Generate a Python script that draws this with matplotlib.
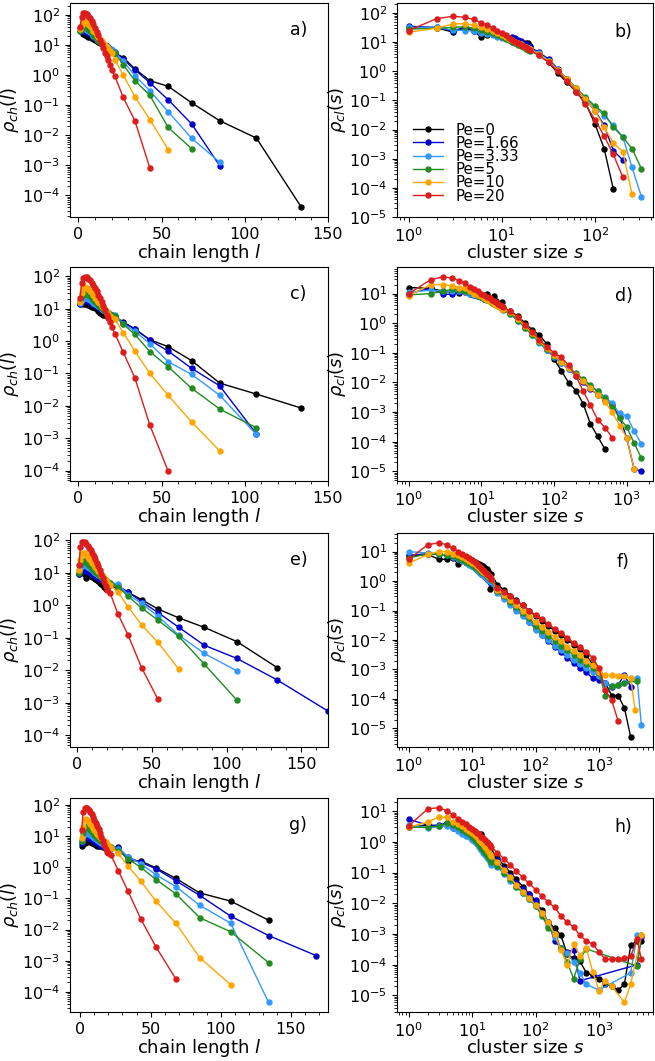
import matplotlib
matplotlib.use("Agg")
import matplotlib.pyplot as plt
from matplotlib.ticker import AutoMinorLocator, LogLocator, NullFormatter

PE_LABELS = ["Pe=0", "Pe=1.66", "Pe=3.33", "Pe=5", "Pe=10", "Pe=20"]
COLORS = ["black", "#0000cd", "#3399ff", "#228b22", "#ffa500", "#dd1c1c"]

# chain length bins (left column)
L_BINS = [1, 2, 3, 4, 5, 6, 7, 8, 9, 10, 11, 12, 13, 14, 15, 16, 17, 18, 19, 20,
          22, 27, 34, 43, 54, 68, 85, 107, 134, 168]
# small cluster sizes (right column), tails listed per series
S_SMALL = [1, 2, 3, 4, 5, 6, 7, 8, 9, 10, 11, 12, 13, 14, 15, 16, 17, 18, 19, 20]

# ---- panel a ----
rho_ch_a = [
    [30, 27, 24, 22, 20, 19, 18, 17, 15.5, 14.5, 14, 13, 12, 11, 10, 9.5, 9, 8.2, 7.6, 7,
     5.5, 3.8, 1.6, 0.65, 0.42, 0.12, 0.03, 0.008, 4e-5],
    [36, 32, 30, 29, 27, 25, 23, 21, 19, 17, 15.5, 14, 13, 12, 11, 10, 9, 8.2, 7.5, 6.8,
     5.8, 3.3, 1.5, 0.55, 0.15, 0.024, 9.5e-4],
    [32, 35, 36, 35, 32, 29, 26, 23, 20, 18, 16, 14.5, 13, 12, 11, 10, 9, 8, 7.4, 6.8,
     5.8, 2.9, 0.95, 0.3, 0.06, 0.008, 1.25e-3],
    [30, 38, 45, 44, 40, 35, 30, 26, 22, 19, 16.5, 14, 12.5, 11, 10, 9, 8, 7.2, 6.5, 6,
     5.3, 2.2, 0.65, 0.21, 0.018, 3.6e-3],
    [35, 45, 60, 62, 58, 50, 42, 36, 30, 26, 22, 19, 16, 14, 12, 10, 8.5, 7.5, 6.5, 5.5,
     3.2, 1.0, 0.19, 0.033, 3.3e-3],
    [40, 85, 115, 118, 110, 95, 80, 65, 50, 38, 28, 21, 15, 11, 8, 5.5, 4.2, 3.1, 2.2, 1.5,
     0.9, 0.18, 0.03, 8e-4],
]

# ---- panel c ----
rho_ch_c = [
    [14, 15, 14, 14, 13.5, 13, 12, 11.5, 11, 10.5, 10, 8.5, 7.5, 7, 6.6, 6.2, 6, 5.8, 5.5, 5.5,
     5.5, 3.9, 2.3, 1.1, 0.67, 0.25, 0.05, 0.023, 8.5e-3],
    [14, 16, 18, 18.5, 18, 17, 16, 15, 14, 13, 12, 11, 10, 9.5, 9, 8.3, 7.7, 7.1, 6.6, 6.2,
     6, 3.7, 2.4, 1.07, 0.49, 0.144, 0.041, 1.35e-3],
    [15, 18, 21, 22, 21, 20, 18.5, 17, 15.5, 14, 13, 12, 11, 10, 9.3, 8.6, 8, 7.4, 6.9, 6.5,
     6.5, 3.4, 2.0, 0.83, 0.23, 0.094, 0.021, 1.3e-3],
    [17, 24, 29, 30, 29, 27, 24, 21, 18.5, 16, 14.5, 13, 11.5, 10.5, 9.5, 8.7, 8, 7.4, 6.8, 6.3,
     5.8, 3.3, 1.6, 0.47, 0.16, 0.035, 7.9e-3, 2.1e-3],
    [16, 30, 42, 46, 44, 40, 35, 30, 26, 22, 19, 16.5, 14.5, 12.5, 11, 9.5, 8, 7, 6, 5.3,
     4.7, 1.8, 0.49, 0.1, 0.021, 3.2e-3, 4e-4],
    [21, 62, 90, 97, 93, 85, 75, 63, 52, 42, 34, 27, 21, 16, 12, 9, 6.5, 5, 4, 2.8,
     1.7, 0.45, 0.072, 2.5e-3, 9.5e-5],
]

# ---- panel e ----
rho_ch_e = [
    [9, 10, 11, 10, 9, 7, 9.5, 8.5, 8, 7.5, 7.3, 6.5, 6, 5.5, 5, 4.6, 4.2, 3.6, 3.1, 3.5,
     4.1, 3.3, 2.5, 1.5, 0.77, 0.41, 0.21, 0.076, 0.012],
    [9, 11, 12, 12.5, 12, 11.5, 11, 10.5, 10, 9.4, 8.8, 8.2, 7.6, 7.1, 6.7, 6.3, 5.9, 5.6, 5.3, 5,
     4.6, 4, 2.6, 1.3, 0.6, 0.21, 0.059, 0.023, 5e-3, 5.5e-4],
    [12, 14, 16, 17, 17, 16, 15, 14, 13, 12, 11, 10, 9.4, 8.8, 8.2, 7.6, 7, 6.5, 6, 5.6,
     5, 4.6, 2.1, 1.15, 0.46, 0.12, 0.033, 9.5e-3],
    [10, 17, 22, 24, 23, 21, 19, 17, 15, 13.5, 12, 11, 10, 9, 8.3, 7.6, 7, 6.4, 5.9, 5.4,
     4.8, 3.8, 1.9, 0.83, 0.35, 0.11, 0.0155, 1.18e-3],
    [12, 25, 38, 42, 40, 36, 31, 27, 23, 20, 17, 15, 13, 11.5, 10, 8.8, 7.8, 6.8, 6, 5.2,
     4.1, 2.6, 0.9, 0.25, 0.072, 0.0107],
    [18, 65, 88, 92, 88, 80, 70, 60, 50, 41, 33, 26, 20, 16, 12, 9, 7, 5.2, 4, 3,
     2.35, 0.56, 0.12, 0.012, 1.26e-3],
]

# ---- panel g ----
rho_ch_g = [
    [5, 5.5, 6.2, 6.5, 6.3, 6.8, 6.5, 6.2, 6, 5.5, 5.2, 5, 4.9, 4.8, 4.7, 4.6, 4.5, 4.4, 4.3, 4.3,
     4.2, 4.4, 1.63, 1.6, 0.95, 0.44, 0.15, 0.082, 0.02],
    [6, 8, 9, 9.5, 9.3, 9, 8.5, 8, 7.5, 7, 6.5, 6, 5.6, 5.3, 5, 4.8, 4.6, 4.5, 4.4, 4.3,
     4.3, 4.3, 2.1, 1.45, 0.89, 0.37, 0.125, 0.027, 6.4e-3, 1.45e-3],
    [7, 10, 12, 13, 12.5, 12, 11, 10, 9.3, 8.6, 8, 7.4, 6.9, 6.4, 6, 5.6, 5.3, 5, 4.7, 4.5,
     4.3, 4.0, 2.2, 1.3, 0.57, 0.24, 0.06, 0.016, 4.6e-5],
    [7, 13, 18, 20, 19.5, 18, 16, 14, 12.5, 11, 10, 9, 8.2, 7.5, 7, 6.5, 6, 5.6, 5.2, 4.9,
     4.5, 3.4, 1.85, 1.0, 0.4, 0.14, 0.024, 8.5e-3, 8.7e-4],
    [9, 20, 32, 35, 33, 29, 25, 21, 18, 15.5, 13.5, 12, 10.5, 9.5, 8.5, 7.7, 7, 6.3, 5.7, 5.2,
     4.3, 2.8, 1.1, 0.36, 0.08, 0.016, 1.25e-3, 1.7e-4],
    [16, 60, 80, 82, 78, 70, 60, 50, 42, 34, 27, 21, 16.5, 12.5, 9.5, 7, 5.2, 4, 3.2, 2.8,
     2.4, 0.78, 0.17, 0.022, 2.7e-3, 2.6e-4],
]

# ---- panel b ----
s_tail_b = [
    [25, 32, 40, 50, 63, 79, 100, 126, 158],
    [25, 32, 40, 50, 63, 79, 100, 126, 158, 200],
    [25, 32, 40, 50, 63, 79, 100, 126, 158, 200, 251, 316],
    [25, 32, 40, 50, 63, 79, 100, 126, 158, 200, 251, 316],
    [25, 32, 40, 50, 63, 79, 100, 126, 158, 200, 251],
    [25, 32, 40, 50, 63, 79, 100, 126, 158, 200],
]
rho_cl_b = [
    [30, 31, 22, 31, 24, 15, 17, 20, 19, 17, 15, 13, 12, 11, 10.5, 10, 9.5, 9.5, 9.3, 7.5,
     3.8, 2.0, 0.85, 0.42, 0.2, 0.085, 0.016, 2.2e-3, 9e-5],
    [35, 32, 24, 33, 25, 22, 20, 19, 17, 15.5, 14, 13, 15, 14, 12, 11, 9.5, 8.5, 7.5, 6.8,
     4.5, 2.6, 1.2, 0.55, 0.25, 0.11, 0.045, 0.014, 1.9e-3, 9e-4],
    [32, 32, 26, 25, 24, 21, 19, 17, 15.5, 14, 12.5, 11.5, 10.5, 9.5, 8.8, 8.1, 7.5, 7, 6.5, 6,
     4.2, 2.3, 1.1, 0.55, 0.27, 0.12, 0.06, 0.03, 0.014, 5.5e-3, 5e-4, 5e-5],
    [28, 30, 32, 34, 30, 26, 23, 20, 17.5, 15, 13, 11.5, 10, 9, 8, 7.3, 6.6, 6, 5.5, 5,
     3.6, 2.2, 1.1, 0.55, 0.27, 0.13, 0.065, 0.036, 0.012, 5.5e-3, 2.2e-3, 4.6e-4],
    [22, 30, 42, 43, 38, 33, 28, 24, 20, 17, 15, 13, 11.5, 10.3, 9.3, 8.4, 7.6, 6.9, 6.3, 5.8,
     3.8, 2.2, 1.1, 0.55, 0.26, 0.11, 0.045, 0.012, 3.5e-3, 1.7e-3, 6e-5],
    [25, 64, 77, 71, 60, 46, 38, 31, 25, 20, 17, 14, 12, 10.5, 9.2, 8.2, 7.4, 6.6, 6.0, 5.4,
     3.5, 2.0, 1.0, 0.45, 0.2, 0.075, 0.022, 6e-3, 1.4e-3, 2.3e-4],
]

# ---- panel d ----
s_tail_d = [
    [25, 32, 40, 50, 63, 79, 100, 126, 158, 200, 251, 316, 398, 501],
    [25, 32, 40, 50, 63, 79, 100, 126, 158, 200, 251, 316, 398, 501, 631, 794, 1000, 1259, 1585],
    [25, 32, 40, 50, 63, 79, 100, 126, 158, 200, 251, 316, 398, 501, 631, 794, 1000, 1259, 1585],
    [25, 32, 40, 50, 63, 79, 100, 126, 158, 200, 251, 316, 398, 501, 631, 794, 1000, 1259, 1585],
    [25, 32, 40, 50, 63, 79, 100, 126, 158, 200, 251, 316, 398, 501, 631, 794, 1000, 1259],
    [25, 32, 40, 50, 63, 79, 100, 126, 158, 200, 251, 316, 398, 501, 631],
]
rho_cl_d = [
    [16, 15, 12, 11, 10.5, 11, 10, 9, 8, 7.5, 7, 9.5, 6.5, 6, 8, 5.5, 4.5, 4, 5, 3.2,
     2.6, 1.7, 1.0, 0.6, 0.4, 0.2, 0.06, 0.025, 9.8e-3, 5.3e-3, 1.9e-3, 4e-4, 1.5e-4, 5.5e-5],
    [10, 15, 9.5, 9.5, 11, 12, 10, 9, 8.3, 7.5, 6.8, 6.2, 5.6, 5.1, 4.7, 4.3, 4, 3.7, 3.4, 3.1,
     2.2, 1.3, 0.75, 0.42, 0.23, 0.12, 0.075, 0.045, 0.028, 0.017, 0.01, 6e-3, 3.8e-3, 2.5e-3,
     1.7e-3, 7e-4, 1.3e-4, 1.2e-5, 1e-5],
    [11, 13, 12, 12, 12, 11, 10, 9, 8.2, 7.4, 6.7, 6.1, 5.5, 5, 4.6, 4.2, 3.8, 3.5, 3.2, 2.9,
     2.0, 1.2, 0.7, 0.4, 0.22, 0.12, 0.07, 0.045, 0.028, 0.018, 0.012, 7.5e-3, 5e-3, 3.2e-3,
     2e-3, 9e-4, 7.3e-4, 2.3e-4, 8.5e-5],
    [9, 10, 12, 14, 13, 12, 11, 9.5, 8.5, 7.5, 6.7, 6, 5.4, 4.9, 4.5, 4.1, 3.7, 3.4, 3.1, 2.8,
     2.0, 1.2, 0.7, 0.4, 0.23, 0.13, 0.08, 0.05, 0.032, 0.02, 0.013, 8e-3, 5e-3, 3e-3,
     1.5e-3, 6.3e-4, 3.1e-4, 9e-5, 2.8e-5],
    [8.5, 20, 20, 18, 16, 15, 12, 10, 9, 8, 7, 6.3, 5.6, 5, 4.5, 4.1, 3.7, 3.4, 3.1, 2.9,
     2.4, 1.4, 0.8, 0.45, 0.25, 0.14, 0.085, 0.05, 0.03, 0.018, 0.011, 6.5e-3, 3.8e-3, 2.2e-3,
     1e-3, 3.5e-4, 1.35e-4, 1.2e-5],
    [10, 29, 37, 33, 27, 22, 17, 14, 12, 10, 8.8, 7.8, 7, 6.2, 5.6, 5, 4.6, 4.2, 3.8, 3.5,
     2.6, 1.6, 0.9, 0.5, 0.28, 0.16, 0.1, 0.07, 0.038, 0.0165, 5.1e-3, 1.7e-3, 5.4e-4, 3e-4, 1.35e-4],
]

# ---- panel f ----
s_tail_f = [
    [25, 32, 40, 50, 63, 79, 100, 126, 158, 200, 251, 316, 398, 501, 631, 794, 1000, 1259, 1585,
     1995, 2512, 3162],
    [25, 32, 40, 50, 63, 79, 100, 126, 158, 200, 251, 316, 398, 501, 631, 794, 1000, 1259, 1585,
     1995, 2512, 3162],
    [25, 32, 40, 50, 63, 79, 100, 126, 158, 200, 251, 316, 398, 501, 631, 794, 1000, 1259, 1585,
     1995, 2512, 3981, 4650],
    [25, 32, 40, 50, 63, 79, 100, 126, 158, 200, 251, 316, 398, 501, 631, 794, 1000, 1259, 1585,
     1995, 2512, 3981],
    [25, 32, 40, 50, 63, 79, 100, 126, 158, 200, 251, 316, 398, 501, 631, 794, 1000, 1259, 1585,
     1995, 2512, 3162, 3700],
    [25, 32, 40, 50, 63, 79, 100, 126, 158, 200, 251, 316, 398, 501, 631, 794, 1000, 1259, 1585,
     1995],
]
rho_cl_f = [
    [7, 8, 5.5, 5.5, 6, 3.8, 5.5, 6, 5.5, 5, 4.5, 4.2, 3.8, 3.5, 3.2, 2.8, 2.5, 2.2, 0.55, 1.8,
     0.75, 0.5, 0.32, 0.22, 0.15, 0.1, 0.065, 0.045, 0.03, 0.021, 0.015, 0.01, 7e-3, 5e-3, 3e-3,
     1.5e-3, 6e-4, 3.5e-4, 1.3e-4, 1.3e-4, 5e-5, 5e-6],
    [7.5, 8.5, 8, 7.5, 6.5, 5.8, 5, 4.3, 3.7, 3.2, 2.8, 2.4, 2.1, 1.8, 1.6, 1.4, 1.2, 1.05, 0.95, 0.85,
     0.45, 0.28, 0.18, 0.11, 0.07, 0.042, 0.024, 0.015, 9e-3, 6e-3, 3.8e-3, 2.5e-3, 1.6e-3, 1.1e-3,
     8e-4, 5e-4, 4.5e-4, 3.5e-4, 2.6e-4, 3e-4, 6.5e-4, 2.6e-4],
    [10, 9, 8.5, 7.5, 6.5, 5.5, 4.8, 4.2, 3.6, 3.2, 2.8, 2.4, 2.1, 1.8, 1.6, 1.4, 1.25, 1.1, 1.0, 0.9,
     0.38, 0.25, 0.16, 0.1, 0.065, 0.04, 0.022, 0.015, 0.01, 6.5e-3, 4.5e-3, 3e-3, 2.1e-3, 1.5e-3,
     1.1e-3, 8e-4, 6e-4, 3.5e-4, 2.8e-4, 3e-4, 3.5e-4, 5e-4, 1.3e-5],
    [6, 8.5, 8, 7.5, 7, 6, 5.2, 4.5, 4, 3.5, 3.1, 2.7, 2.4, 2.1, 1.9, 1.7, 1.5, 1.35, 1.2, 1.05,
     0.45, 0.3, 0.2, 0.13, 0.085, 0.055, 0.03, 0.021, 0.014, 9.5e-3, 6.5e-3, 4.5e-3, 3.1e-3, 2.1e-3,
     1.5e-3, 1.1e-3, 7.5e-4, 1.3e-4, 2.7e-4, 3e-4, 3.6e-4, 4e-4],
    [4, 8, 10, 10, 8.5, 7.5, 6.5, 5.5, 4.8, 4.2, 3.7, 3.2, 2.8, 2.4, 2.1, 1.9, 1.7, 1.5, 1.35, 1.2,
     0.5, 0.33, 0.22, 0.15, 0.1, 0.065, 0.04, 0.028, 0.019, 0.013, 9e-3, 6e-3, 4.3e-3, 3e-3,
     2e-3, 1.4e-3, 8.5e-4, 6.3e-4, 6.3e-4, 6e-4, 6e-4, 5e-4, 4.2e-5],
    [5.5, 17, 20, 17, 13, 10, 8.5, 7, 6, 5, 4.3, 3.7, 3.2, 2.8, 2.4, 2.1, 1.8, 1.6, 1.4, 1.2,
     0.6, 0.42, 0.3, 0.21, 0.15, 0.1, 0.07, 0.05, 0.035, 0.024, 0.017, 0.012, 8e-3, 5.8e-3,
     4e-3, 2.5e-3, 1.1e-3, 2e-4, 9e-5, 1.8e-5],
]

# ---- panel h ----
s_tail_h = [
    [25, 32, 40, 50, 63, 79, 100, 126, 158, 200, 251, 316, 398, 501, 631, 794, 1000, 1259, 1585,
     1995, 2512, 3162, 3981, 4650],
    [25, 32, 40, 50, 63, 79, 100, 126, 158, 200, 251, 316, 398, 501, 3981, 4650],
    [25, 32, 40, 50, 63, 79, 100, 126, 158, 200, 251, 316, 398, 501, 631, 1000, 3162, 3981],
    [25, 32, 40, 50, 63, 79, 100, 126, 158, 200, 251, 316, 398, 501, 631, 3981, 4650],
    [25, 32, 40, 50, 63, 79, 100, 126, 158, 200, 251, 316, 398, 501, 631, 794, 1000, 1259, 1585,
     2512, 3162, 4650],
    [25, 32, 40, 50, 63, 79, 100, 126, 158, 200, 251, 316, 398, 501, 631, 794, 1000, 1259, 1585,
     1995, 2512, 3162, 3981, 4650],
]
rho_cl_h = [
    [3, 3.5, 3.2, 4, 3.5, 3.2, 4.2, 3, 2.5, 2.1, 1.8, 1.5, 1.3, 1.8, 1.0, 0.9, 0.75, 0.6, 0.5, 0.42,
     0.3, 0.17, 0.1, 0.06, 0.035, 0.02, 0.011, 6e-3, 2.4e-3, 1.6e-3, 9e-4, 2.2e-4, 1.6e-4, 1.3e-4,
     5.5e-5, 4.5e-5, 3.5e-5, 2.4e-5, 2e-5, 1.5e-5, 2.3e-5, 4.3e-4, 6e-4, 6e-4],
    [5.5, 3.5, 3.5, 4.2, 2.8, 2.5, 1.9, 1.8, 2.0, 1.7, 1.2, 1.0, 0.85, 1.0, 0.8, 0.65, 0.55, 0.45, 0.4, 0.35,
     0.25, 0.13, 0.075, 0.045, 0.03, 0.02, 0.013, 5e-3, 2.5e-3, 6e-4, 3.5e-4, 2.6e-4, 3e-4, 3e-5,
     1e-4, 8e-4],
    [3.5, 2.8, 3.2, 3.3, 2.8, 2.2, 1.8, 1.6, 1.4, 1.2, 1.0, 0.85, 0.7, 0.55, 0.45, 0.38, 0.32, 0.27, 0.22, 0.18,
     0.15, 0.09, 0.055, 0.035, 0.022, 0.014, 8e-3, 4.5e-3, 1.8e-3, 8e-4, 3.5e-4, 2.4e-4, 1.2e-4,
     5.5e-5, 2.3e-5, 1.5e-5, 5.5e-5, 9.5e-4],
    [3, 3, 3.3, 4, 3.5, 3, 2.5, 2.1, 1.8, 1.5, 1.2, 1.0, 0.8, 0.65, 0.55, 0.45, 0.38, 0.32, 0.27, 0.23,
     0.16, 0.1, 0.06, 0.035, 0.022, 0.014, 8.5e-3, 4e-3, 1.6e-3, 1e-3, 3.5e-4, 1.2e-4, 3.5e-5,
     1.5e-4, 3.3e-4, 9e-5, 9e-4],
    [3, 4.5, 6.5, 6.3, 4.5, 3.8, 3.2, 2.7, 2.3, 2.0, 1.7, 1.4, 1.2, 1.0, 0.85, 0.7, 0.6, 0.5, 0.42, 0.35,
     0.22, 0.12, 0.07, 0.04, 0.024, 0.015, 9e-3, 5e-3, 2.4e-3, 1e-3, 3e-4, 1e-4, 4.7e-4, 2e-4,
     3.5e-4, 6e-5, 1.4e-5, 3e-5, 2e-5, 6e-6, 2.3e-5, 9.5e-4],
    [3.3, 12, 13, 10.5, 7.6, 5.6, 4.5, 3.7, 3.1, 2.7, 2.3, 2.0, 1.75, 1.5, 1.3, 1.15, 1.0, 0.9, 0.8, 0.7,
     0.45, 0.28, 0.18, 0.11, 0.07, 0.045, 0.028, 0.017, 0.011, 7.4e-3, 3.9e-3, 2.4e-3, 1.7e-3, 9e-4,
     6e-4, 4.7e-4, 2.6e-4, 1.5e-4, 1.5e-4, 1.5e-4, 1.6e-4, 1.9e-4, 7e-4, 1.5e-4],
]

TICK_FS = 11.5
LABEL_FS = 13
plt.rcParams["font.size"] = TICK_FS
plt.rcParams["mathtext.fontset"] = "dejavusans"

fig = plt.figure(figsize=(6.55, 10.61), dpi=100)
W, H = 655.0, 1061.0
row_tops = [3, 267, 533, 798]
ax_h = 214


def style_log_y(ax):
    ax.set_yscale("log")
    ax.yaxis.set_major_locator(LogLocator(base=10, numticks=20))
    ax.yaxis.set_minor_locator(LogLocator(base=10, subs=[2, 3, 4, 5, 6, 7, 8, 9], numticks=20))
    ax.yaxis.set_minor_formatter(NullFormatter())


def chain_panel(top, data, tag, xlim=None, ylim=None):
    ax = fig.add_axes([70 / W, 1 - (top + ax_h) / H, 258 / W, ax_h / H])
    for y, c, lab in zip(data, COLORS, PE_LABELS):
        ax.plot(L_BINS[:len(y)], y, "-o", color=c, lw=1, ms=3.6, label=lab)
    style_log_y(ax)
    if xlim is not None:
        ax.set_xlim(*xlim)
    if ylim is not None:
        ax.set_ylim(*ylim)
    ax.xaxis.set_minor_locator(AutoMinorLocator(5))
    ax.set_xlabel("chain length $l$", fontsize=LABEL_FS, labelpad=0)
    ax.set_ylabel(r"$\rho_{ch}(l)$", fontsize=LABEL_FS, labelpad=1)
    ax.text(0.885, 0.875, tag, transform=ax.transAxes, ha="center", va="center", fontsize=12.5)
    return ax


def cluster_panel(top, tails, data, tag, ylim=None):
    ax = fig.add_axes([397 / W, 1 - (top + ax_h) / H, 256 / W, ax_h / H])
    for st, y, c, lab in zip(tails, data, COLORS, PE_LABELS):
        ax.plot(S_SMALL + st, y, "-o", color=c, lw=1, ms=3.6, label=lab)
    ax.set_xscale("log")
    style_log_y(ax)
    if ylim is not None:
        ax.set_ylim(*ylim)
    ax.xaxis.set_minor_locator(LogLocator(base=10, subs=[2, 3, 4, 5, 6, 7, 8, 9], numticks=20))
    ax.xaxis.set_minor_formatter(NullFormatter())
    ax.set_xlabel("cluster size $s$", fontsize=LABEL_FS, labelpad=-1)
    ax.set_ylabel(r"$\rho_{cl}(s)$", fontsize=LABEL_FS, labelpad=1)
    ax.text(0.885, 0.865, tag, transform=ax.transAxes, ha="center", va="center", fontsize=12.5)
    return ax


chain_panel(row_tops[0], rho_ch_a, "a)", (-5, 150))
axb = cluster_panel(row_tops[0], s_tail_b, rho_cl_b, "b)", ylim=(1e-5, 220))
axb.legend(loc="lower left", bbox_to_anchor=(0.01, 0.0), frameon=False, fontsize=10.8,
           labelspacing=-0.12, handlelength=2.0, handletextpad=0.8, borderaxespad=0.5)
chain_panel(row_tops[1], rho_ch_c, "c)", (-5, 150))
cluster_panel(row_tops[1], s_tail_d, rho_cl_d, "d)")
chain_panel(row_tops[2], rho_ch_e, "e)", (-5, 168), ylim=(4.3e-5, 170))
cluster_panel(row_tops[2], s_tail_f, rho_cl_f, "f)")
chain_panel(row_tops[3], rho_ch_g, "g)")
cluster_panel(row_tops[3], s_tail_h, rho_cl_h, "h)")

fig.savefig("out.png", dpi=100)
